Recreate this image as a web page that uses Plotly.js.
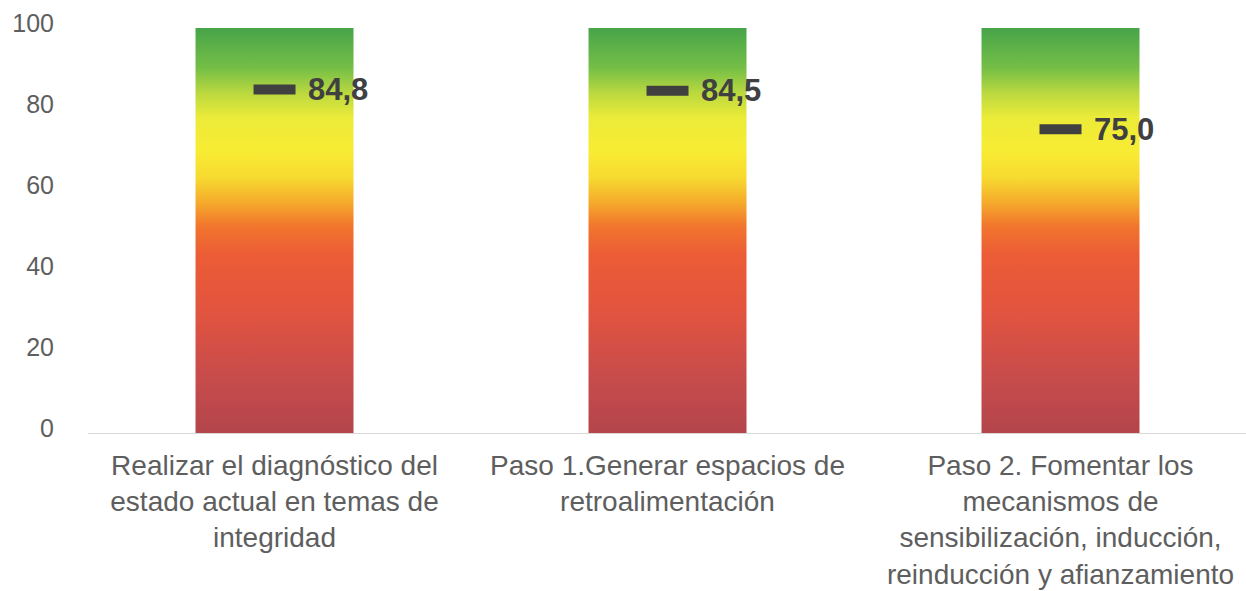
<!DOCTYPE html>
<html>
<head>
<meta charset="utf-8">
<script src="https://cdn.plot.ly/plotly-3.0.1.min.js"></script>
<style>
  html, body { margin: 0; padding: 0; background: #ffffff; }
  #chart { width: 1246px; height: 591px; }
</style>
</head>
<body>
<div id="chart"></div>
<script>
// Etapas evaluadas (eje X)
const categorias = [
  'Realizar el diagnóstico del<br>estado actual en temas de<br>integridad',
  'Paso 1.Generar espacios de<br>retroalimentación',
  'Paso 2. Fomentar los<br>mecanismos de<br>sensibilización, inducción,<br>reinducción y afianzamiento'
];
// Calificación obtenida por cada etapa
const valores = [84.8, 84.5, 75.0];
// Escala completa de cada semáforo (0 a 100)
const escalaMin = [0, 0, 0];
const escalaMax = [100, 100, 100];
// Marcas del eje Y
const ticksY = [0, 20, 40, 60, 80, 100];

// Colores del semáforo, de abajo (rojo) hacia arriba (verde)
const semaforo = [
  [0.00, '#b3454b'],
  [0.15, '#c94c4b'],
  [0.30, '#e2543f'],
  [0.44, '#ec5c36'],
  [0.51, '#f1752d'],
  [0.57, '#f5ab2b'],
  [0.63, '#f7da30'],
  [0.70, '#f8ec34'],
  [0.78, '#ebeb39'],
  [0.84, '#bad83f'],
  [0.90, '#76bf47'],
  [1.00, '#47a449']
];

const mediaBarra = 0.201;   // media anchura de cada barra, en unidades de categoría
const gris = '#5e5e5e';
const grisMarca = '#404040';

const trazas = [];

// Barras de fondo con degradado vertical
categorias.forEach((c, i) => {
  const x0 = i - mediaBarra, x1 = i + mediaBarra;
  trazas.push({
    type: 'scatter',
    mode: 'lines',
    x: [x0, x1, x1, x0, x0],
    y: [escalaMin[i], escalaMin[i], escalaMax[i], escalaMax[i], escalaMin[i]],
    fill: 'toself',
    line: { width: 0, color: 'rgba(0,0,0,0)' },
    fillgradient: {
      type: 'vertical',
      start: escalaMin[i],
      stop: escalaMax[i],
      colorscale: semaforo
    },
    hoverinfo: 'skip',
    showlegend: false
  });
});

// Marcador del valor obtenido
trazas.push({
  type: 'scatter',
  mode: 'markers',
  x: categorias.map((c, i) => i),
  y: valores,
  marker: {
    symbol: 'line-ew',
    size: 30,
    color: grisMarca,
    line: { width: 10, color: grisMarca }
  },
  hoverinfo: 'skip',
  showlegend: false
});

// Etiquetas con el valor (coma decimal)
const etiquetas = valores.map((v, i) => ({
  x: i,
  y: v,
  xref: 'x',
  yref: 'y',
  text: '<b>' + v.toFixed(1).replace('.', ',') + '</b>',
  showarrow: false,
  xanchor: 'left',
  yanchor: 'middle',
  xshift: 31,
  font: { family: 'Liberation Sans, Arial, sans-serif', size: 31, color: grisMarca }
}));

const layout = {
  width: 1246,
  height: 591,
  margin: { l: 88, r: 0, t: 28, b: 158 },
  paper_bgcolor: '#ffffff',
  plot_bgcolor: '#ffffff',
  showlegend: false,
  font: { family: 'Liberation Sans, Arial, sans-serif', color: gris },
  xaxis: {
    type: 'linear',
    range: [-0.4746, 2.472],
    tickvals: categorias.map((c, i) => i),
    ticktext: categorias,
    ticks: '',
    showgrid: false,
    zeroline: false,
    showline: true,
    linecolor: '#d9d9d9',
    linewidth: 1,
    tickfont: { size: 28, color: gris },
    tickangle: 0,
    ticklabelstandoff: 7,
    fixedrange: true
  },
  yaxis: {
    range: [0, 100],
    tickvals: ticksY,
    ticktext: ticksY.map(String),
    ticks: '',
    showgrid: false,
    zeroline: false,
    showline: false,
    tickfont: { size: 25, color: gris },
    ticklabelstandoff: 33,
    ticklabelshift: -5,
    fixedrange: true
  },
  annotations: etiquetas
};

Plotly.newPlot('chart', trazas, layout, { displayModeBar: false, staticPlot: true });
</script>
</body>
</html>
